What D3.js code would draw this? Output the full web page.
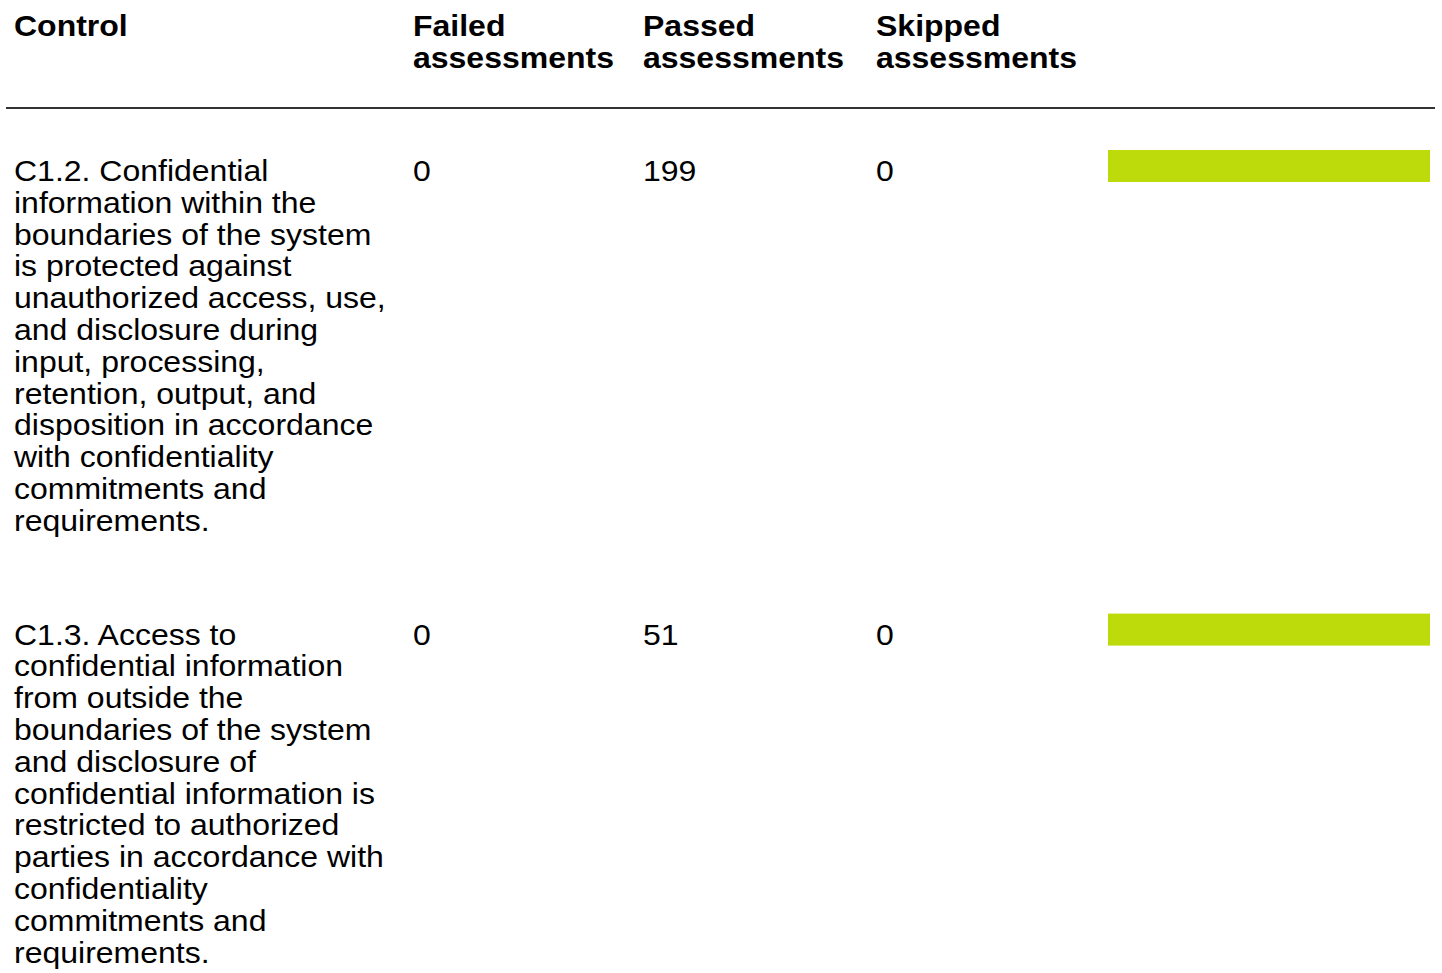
<!DOCTYPE html>
<html>
<head>
<meta charset="utf-8">
<script src="https://cdn.jsdelivr.net/npm/d3@7"></script>
<style>
  html, body { margin: 0; padding: 0; background: #fff; }
  text { font-family: "Liberation Sans", Arial, Helvetica, sans-serif; fill: #000; }
</style>
</head>
<body>
<script>
'use strict';

var width = 1442;
var height = 973;

// table data
var headers = [['Control'], ['Failed', 'assessments'], ['Passed', 'assessments'], ['Skipped', 'assessments']];
var controls = [
  'C1.2. Confidential information within the boundaries of the system is protected against unauthorized access, use, and disclosure during input, processing, retention, output, and disposition in accordance with confidentiality commitments and requirements.',
  'C1.3. Access to confidential information from outside the boundaries of the system and disclosure of confidential information is restricted to authorized parties in accordance with confidentiality commitments and requirements.'
];
var failed = [0, 0];
var passed = [199, 51];
var skipped = [0, 0];

var colX = [14, 413, 643, 876];
var barX0 = 1108, barX1 = 1430;
var fontSize = 29.5, sx = 32 / 29.5, lh = 31.8;
var wrapWidth = 376;

var svg = d3.select('body').append('svg').attr('width', width).attr('height', height);

// header
var head = svg.append('g').attr('class', 'header');
headers.forEach(function (lines, i) {
  lines.forEach(function (l, j) {
    head.append('text')
      .attr('transform', 'translate(' + colX[i] + ',' + (36 + j * 32) + ') scale(' + sx + ',1)')
      .attr('font-size', fontSize).attr('font-weight', 'bold')
      .text(l);
  });
});

svg.append('line')
  .attr('x1', 6).attr('x2', 1435).attr('y1', 108).attr('y2', 108)
  .attr('stroke', '#333').attr('stroke-width', 2);

// word wrap using measured widths
var probe = svg.append('text').attr('font-size', fontSize).attr('visibility', 'hidden');
function wrap(str) {
  var words = str.split(' '), lines = [], cur = '';
  words.forEach(function (w) {
    var t = cur ? cur + ' ' + w : w;
    probe.text(t);
    if (cur && probe.node().getComputedTextLength() * sx > wrapWidth) {
      lines.push(cur);
      cur = w;
    } else {
      cur = t;
    }
  });
  if (cur) lines.push(cur);
  return lines;
}

var x = d3.scaleLinear().range([barX0, barX1]);

var rowTop = 108;
controls.forEach(function (c, i) {
  var lines = wrap(c);
  var base = rowTop + 73;
  var g = svg.append('g').attr('class', 'row');
  lines.forEach(function (l, j) {
    g.append('text')
      .attr('transform', 'translate(' + colX[0] + ',' + (base + j * lh) + ') scale(' + sx + ',1)')
      .attr('font-size', fontSize)
      .text(l);
  });
  [failed[i], passed[i], skipped[i]].forEach(function (v, k) {
    g.append('text')
      .attr('transform', 'translate(' + colX[k + 1] + ',' + base + ') scale(' + sx + ',1)')
      .attr('font-size', fontSize)
      .text(v);
  });
  var total = failed[i] + passed[i] + skipped[i];
  x.domain([0, total]);
  g.append('rect')
    .attr('x', x(0)).attr('y', base - 31)
    .attr('width', x(passed[i]) - x(0)).attr('height', 32)
    .attr('fill', '#bdda0a');
  rowTop += lines.length * lh + 82;
});
probe.remove();
</script>
</body>
</html>
